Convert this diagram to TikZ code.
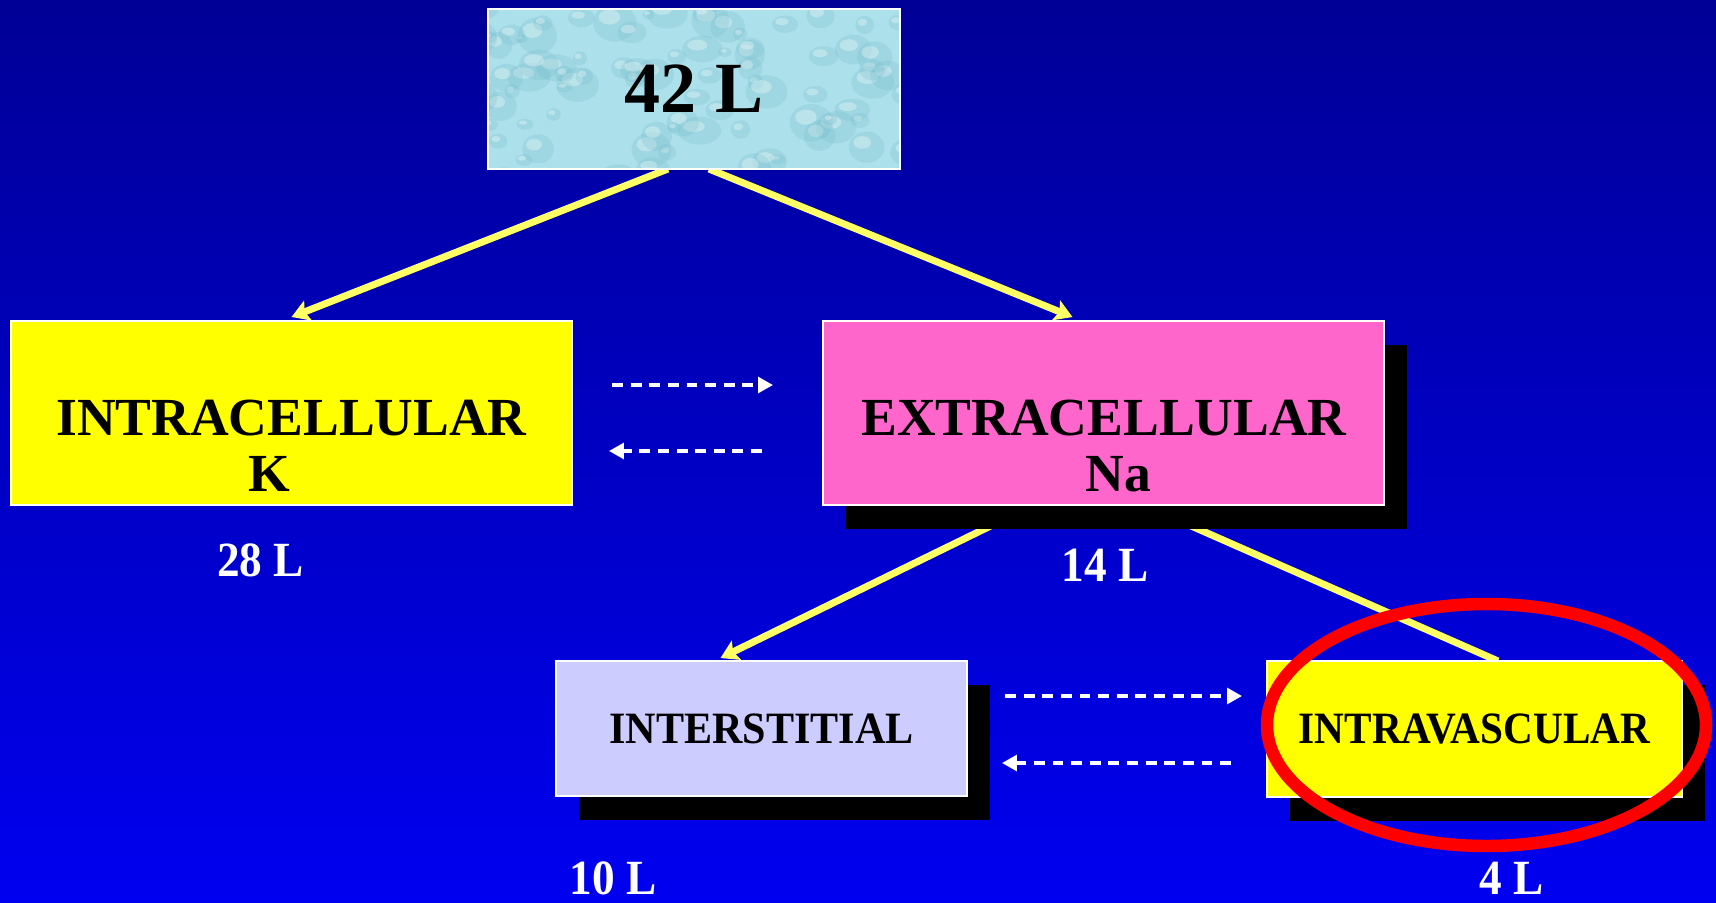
\documentclass[tikz,border=0pt]{standalone}
\usepackage{fontspec}
\usepackage{graphicx}
\setmainfont{Liberation Serif}
\usetikzlibrary{arrows.meta,calc,shadows}
\pgfdeclarelayer{bg}
\pgfdeclarelayer{edges}
\pgfsetlayers{bg,edges,main}
\definecolor{bgtop}{RGB}{0,0,150}
\definecolor{bgbot}{RGB}{0,0,240}
\definecolor{boxyellow}{RGB}{255,255,0}
\definecolor{ecpink}{RGB}{255,102,204}
\definecolor{islav}{RGB}{204,204,255}
\definecolor{arrowyellow}{RGB}{255,255,102}
\definecolor{water}{RGB}{172,224,234}
\definecolor{waterdark}{RGB}{105,180,198}
\tikzset{
  box/.style={draw=white, line width=1.3pt, inner sep=0pt, outer sep=0pt},
  shadowed/.style={drop shadow={fill=black, opacity=1, shadow xshift=0.46cm, shadow yshift=-0.48cm}},
  bigtext/.style={font=\fontsize{30.5}{31.7}\selectfont\bfseries, align=center, text=black, inner sep=0pt},
  lowtext/.style={font=\fontsize{25.5}{27}\selectfont\bfseries, text=black},
  vol/.style={text=white, font=\fontsize{28}{30}\selectfont\bfseries, inner sep=0pt},
  flow/.style={draw=arrowyellow, line width=4pt, -{Stealth[length=10pt,width=12pt,inset=2pt]}},
  flowplain/.style={draw=arrowyellow, line width=4pt},
  exch/.style={draw=white, line width=1.9pt, dash pattern=on 6.2pt off 4.4pt, -{Triangle[length=8.5pt,width=9pt]}},
  drops/.style={path picture={
    \pgfmathsetseed{42}
    \foreach \i in {1,...,90}{
      \pgfmathsetmacro\dx{(rnd-0.5)*440}
      \pgfmathsetmacro\dy{(rnd-0.5)*180}
      \pgfmathsetmacro\ra{6+16*rnd}
      \pgfmathsetmacro\rb{\ra*(0.6+0.4*rnd)}
      \fill[waterdark, opacity=0.2] ($(path picture bounding box.center)+(\dx,\dy)$) ellipse [x radius=\ra, y radius=\rb];
      \fill[white, opacity=0.3] ($(path picture bounding box.center)+(\dx-0.25*\ra,\dy-0.3*\rb)$) ellipse [x radius=0.5*\ra, y radius=0.4*\rb];
    }
  }},
}
\begin{document}
\begin{tikzpicture}[x=0.02cm, y=-0.02cm]
\useasboundingbox (0,0) rectangle (1716,902);
\begin{pgfonlayer}{bg}
  \shade[top color=bgtop, bottom color=bgbot] (0,0) rectangle (1716,902);
\end{pgfonlayer}

% top box
\node[box, fill=water, drops, minimum width=8.24cm, minimum height=3.2cm,
      font=\fontsize{41}{45}\selectfont\bfseries] (total) at (694,89) {42 L};

% middle boxes
\node[box, fill=boxyellow, minimum width=11.22cm, minimum height=3.68cm] (ic) at (291.5,413) {};
\node[bigtext] (ict) at (291.5,446) {INTRACELLULAR\\\hspace*{-25pt}K};
\node[box, shadowed, fill=ecpink, minimum width=11.22cm, minimum height=3.68cm] (ec) at (1103.5,413) {};
\node[bigtext] (ect) at (1104,446) {EXTRACELLULAR\\\hspace*{16pt}Na};

% lower boxes
\node[box, shadowed, fill=islav, lowtext, minimum width=8.22cm, minimum height=2.7cm] (is) at (761.5,728.5) {\scalebox{0.94}[1]{INTERSTITIAL}};
\node[box, shadowed, fill=boxyellow, lowtext, minimum width=8.3cm, minimum height=2.72cm] (iv) at (1474.5,729) {\scalebox{0.92}[1]{INTRAVASCULAR}};

% volume labels
\node[vol] (v28) at (260.5,560.5) {\scalebox{0.92}[1]{28 L}};
\node[vol] (v14) at (1105,565) {\scalebox{0.92}[1]{14 L}};
\node[vol] (v10) at (613,878) {\scalebox{0.92}[1]{10 L}};
\node[vol] (v4) at (1512,878) {\scalebox{0.92}[1]{4 L}};

% yellow connectors
\begin{pgfonlayer}{edges}
  \draw[flow] ($(total.south)+(-26,0)$) -- ($(ic.north)+(0,-4)$);
  \draw[flow] ($(total.south)+(15,0)$) -- ($(ec.north)+(-31,-4)$);
  \draw[flow] ($(ec.south)+(-70,0)$) -- ($(is.north)+(-41,-3)$);
  \draw[flowplain] ($(ec.south)+(40,0)$) -- ($(iv.north)+(23.5,0)$);
\end{pgfonlayer}

% exchange arrows
\coordinate (x1a) at (612,385);
\coordinate (x1b) at (773,385);
\coordinate (x2a) at (762,451);
\coordinate (x2b) at (609,451);
\coordinate (x3a) at (1005,696);
\coordinate (x3b) at (1242,696);
\coordinate (x4a) at (1231,763);
\coordinate (x4b) at (1002,763);
\draw[exch] (x1a) -- (x1b);
\draw[exch] (x2a) -- (x2b);
\draw[exch] (x3a) -- (x3b);
\draw[exch] (x4a) -- (x4b);

% highlight
\coordinate (hl) at (1486.5,725);
\draw[red, line width=7.1pt] (hl) ellipse [x radius=219.5, y radius=121];
\end{tikzpicture}
\end{document}
